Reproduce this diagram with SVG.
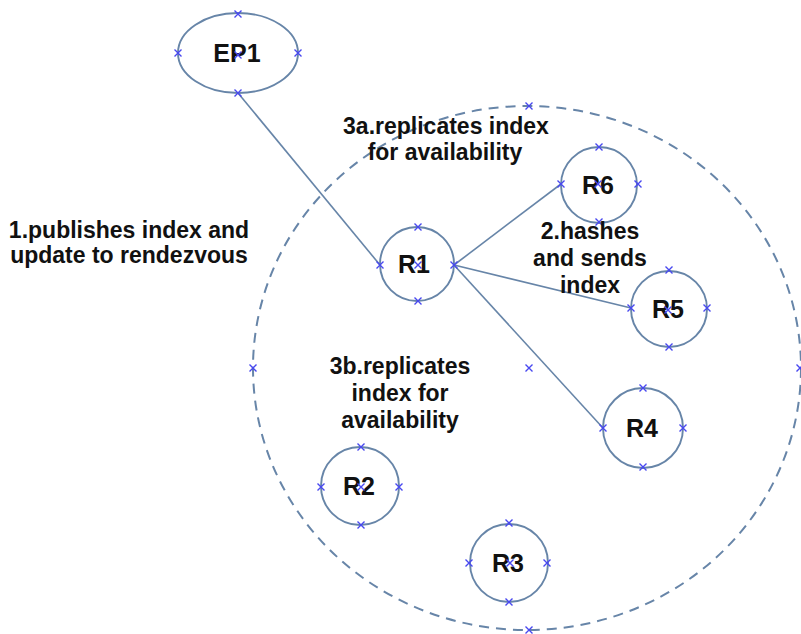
<svg xmlns="http://www.w3.org/2000/svg" width="801" height="634" viewBox="0 0 801 634">
<defs>
<style>
.node{fill:none;stroke:#6785a8;stroke-width:1.9}
.big{fill:none;stroke:#6785a8;stroke-width:2;stroke-dasharray:10,7}
.edge{stroke:#6785a8;stroke-width:1.6;fill:none}
.nl{font-family:"Liberation Sans",Arial,sans-serif;font-weight:bold;font-size:25px;fill:#111;text-anchor:middle}
.lb{font-family:"Liberation Sans",Arial,sans-serif;font-weight:bold;font-size:23px;fill:#111;text-anchor:middle}
</style>
<path id="x" d="M-3.5,-3.5L3.5,3.5M-3.5,3.5L3.5,-3.5" stroke="#4848f0" stroke-width="1.4" fill="none"/>
</defs>
<rect width="801" height="634" fill="#fff"/>
<g id="region">
<ellipse class="big" cx="527" cy="368" rx="274" ry="262"/>
<use href="#x" x="529" y="106"/><use href="#x" x="253" y="368"/><use href="#x" x="800" y="368"/><use href="#x" x="529" y="630"/><use href="#x" x="529" y="368"/>
</g>
<g id="connectors">
<line class="edge" x1="238" y1="93" x2="380" y2="265"/>
<line class="edge" x1="454" y1="265" x2="561" y2="184"/>
<line class="edge" x1="454" y1="265" x2="631" y2="308"/>
<line class="edge" x1="454" y1="265" x2="603" y2="428"/>
</g>
<g id="EP1">
<ellipse class="node" cx="238" cy="53" rx="60" ry="40"/>
<text class="nl" x="237" y="62">EP1</text>
<use href="#x" x="238" y="14"/><use href="#x" x="178" y="53"/><use href="#x" x="298" y="53"/><use href="#x" x="238" y="93"/><use href="#x" x="238" y="55"/>
</g>
<g id="R1">
<circle class="node" cx="417" cy="264" r="37"/>
<text class="nl" x="414" y="273">R1</text>
<use href="#x" x="418" y="227"/><use href="#x" x="380" y="265"/><use href="#x" x="454" y="265"/><use href="#x" x="418" y="301"/><use href="#x" x="418" y="265"/>
</g>
<g id="R6">
<circle class="node" cx="599" cy="185" r="38"/>
<text class="nl" x="598" y="194">R6</text>
<use href="#x" x="599" y="147"/><use href="#x" x="561" y="184"/><use href="#x" x="638" y="184"/><use href="#x" x="599" y="222"/><use href="#x" x="598" y="184"/>
</g>
<g id="R5">
<circle class="node" cx="669" cy="309" r="38"/>
<text class="nl" x="668" y="318">R5</text>
<use href="#x" x="669" y="270"/><use href="#x" x="631" y="308"/><use href="#x" x="707" y="308"/><use href="#x" x="669" y="347"/><use href="#x" x="668" y="310"/>
</g>
<g id="R4">
<circle class="node" cx="643" cy="428" r="40"/>
<text class="nl" x="642" y="437">R4</text>
<use href="#x" x="643" y="388"/><use href="#x" x="603" y="428"/><use href="#x" x="683" y="428"/><use href="#x" x="643" y="467"/>
</g>
<g id="R2">
<circle class="node" cx="360" cy="486" r="39"/>
<text class="nl" x="359" y="495">R2</text>
<use href="#x" x="361" y="447"/><use href="#x" x="321" y="487"/><use href="#x" x="399" y="487"/><use href="#x" x="361" y="525"/><use href="#x" x="361" y="487"/>
</g>
<g id="R3">
<circle class="node" cx="509" cy="563" r="39"/>
<text class="nl" x="508" y="572">R3</text>
<use href="#x" x="509" y="523"/><use href="#x" x="469" y="563"/><use href="#x" x="547" y="563"/><use href="#x" x="509" y="602"/><use href="#x" x="510" y="563"/>
</g>
<g id="labels">
<text class="lb" x="129" y="238">1.publishes index and</text>
<text class="lb" x="129" y="263">update to rendezvous</text>
<text class="lb" x="446" y="134">3a.replicates index</text>
<text class="lb" x="445" y="160">for availability</text>
<text class="lb" x="590" y="239">2.hashes</text>
<text class="lb" x="590" y="266">and sends</text>
<text class="lb" x="590" y="293">index</text>
<text class="lb" x="400" y="374">3b.replicates</text>
<text class="lb" x="400" y="401">index for</text>
<text class="lb" x="400" y="428">availability</text>
</g>
</svg>
